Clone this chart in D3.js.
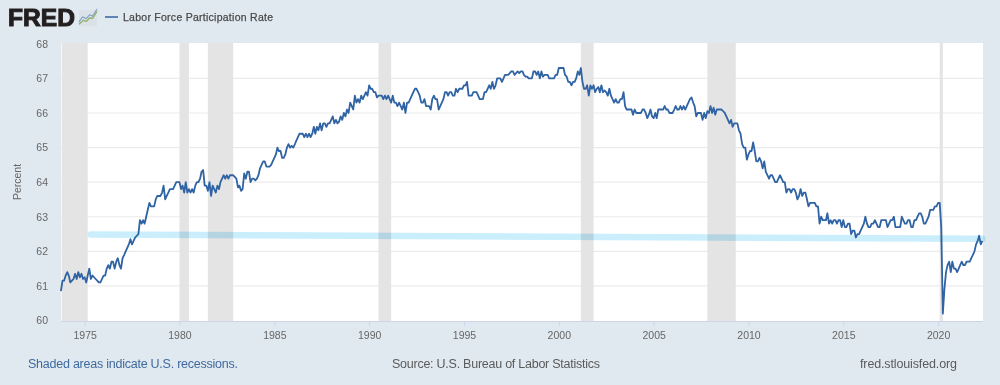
<!DOCTYPE html>
<html><head><meta charset="utf-8">
<script src="https://cdn.jsdelivr.net/npm/d3@7"></script>
<style>html,body{margin:0;padding:0;background:#e1e9f0}svg{display:block}text{font-family:"Liberation Sans",Arial,sans-serif}</style>
</head><body><svg id="c" width="1000" height="385"></svg>
<script>
const startDate = [1973, 9];
const seriesName = "Labor Force Participation Rate";
const yTicks = [60,61,62,63,64,65,66,67,68];
const xTicks = [1975,1980,1985,1990,1995,2000,2005,2010,2015,2020];
const recessions = [["1973-10","1975-03"],["1980-01","1980-07"],["1981-07","1982-11"],["1990-07","1991-03"],["2001-03","2001-11"],["2007-11","2009-05"],["2020-02","2020-04"]];
const highlight = [["1975-05",62.49],["2022-05",62.36]];
const values = [
60.85,61.15,61.15,
61.3,61.4,61.3,61.1,61.15,61.2,61.35,61.2,61.4,61.25,61.35,61.2,
61.25,61.1,61.3,61.5,61.2,61.3,61.25,61.2,61.15,61.1,61.1,61.2,
61.3,61.3,61.5,61.6,61.5,61.7,61.7,61.5,61.7,61.8,61.6,61.5,
61.8,61.9,62.0,62.1,62.2,62.35,62.2,62.3,62.4,62.45,62.5,62.9,
62.8,62.9,62.8,63.0,63.2,63.4,63.3,63.3,63.3,63.5,63.6,63.6,
63.6,63.7,63.9,63.5,63.6,63.7,63.8,63.8,63.8,63.9,64.0,64.0,
64.0,63.8,63.9,63.7,64.0,63.7,63.8,63.7,63.8,63.7,63.9,64.0,
64.0,64.1,64.3,64.35,63.9,63.9,63.75,64.0,63.6,63.9,63.8,63.7,
63.9,63.8,64.0,64.1,64.2,64.1,64.2,64.1,64.2,64.2,64.2,64.15,
64.1,63.85,63.9,63.75,63.8,64.25,64.1,64.3,64.3,64.0,64.1,64.1,
64.05,64.1,64.2,64.4,64.5,64.6,64.6,64.45,64.45,64.45,64.5,64.6,
64.7,64.8,65.0,64.9,64.9,64.7,64.7,64.8,65.0,65.1,65.0,65.05,
65.0,65.1,65.2,65.3,65.4,65.4,65.4,65.3,65.4,65.3,65.4,65.3,
65.4,65.6,65.4,65.6,65.5,65.7,65.5,65.7,65.7,65.6,65.7,65.7,
65.8,65.9,65.7,65.8,65.7,65.75,65.9,65.8,66.0,65.9,66.1,66.0,
66.3,66.2,66.1,66.5,66.3,66.4,66.3,66.5,66.4,66.5,66.6,66.5,
66.8,66.7,66.7,66.6,66.6,66.45,66.5,66.5,66.5,66.4,66.5,66.4,
66.5,66.4,66.3,66.5,66.3,66.3,66.2,66.3,66.2,66.1,66.3,66.0,
66.3,66.3,66.4,66.5,66.6,66.7,66.7,66.6,66.5,66.3,66.3,66.4,
66.2,66.2,66.2,66.1,66.4,66.5,66.4,66.4,66.1,66.2,66.3,66.4,
66.6,66.6,66.5,66.6,66.6,66.5,66.5,66.7,66.6,66.7,66.7,66.7,
66.8,66.8,66.9,66.5,66.5,66.5,66.6,66.6,66.6,66.5,66.4,66.4,
66.4,66.6,66.6,66.7,66.8,66.7,66.9,66.7,66.8,67.0,67.0,67.0,
66.9,67.0,67.1,67.1,67.1,67.15,67.2,67.2,67.1,67.15,67.2,67.15,
67.2,67.2,67.1,67.05,67.05,67.0,67.0,67.0,67.2,67.2,67.1,67.2,
67.0,67.2,67.05,67.1,67.1,67.1,67.0,67.0,67.0,67.0,67.1,67.1,
67.3,67.3,67.3,67.3,67.1,67.05,66.9,66.9,66.8,66.9,66.9,67.0,
67.2,67.1,67.3,66.9,66.7,66.7,66.8,66.5,66.8,66.7,66.8,66.6,
66.7,66.75,66.6,66.8,66.6,66.65,66.6,66.5,66.7,66.5,66.4,66.3,
66.4,66.3,66.3,66.4,66.4,66.6,66.2,66.1,66.1,66.1,66.1,65.95,
66.1,66.0,66.0,66.0,66.0,66.1,66.1,66.0,65.85,65.95,66.1,65.9,
65.85,66.0,65.85,66.1,66.1,66.1,66.1,66.2,66.1,66.1,66.0,66.0,
66.0,66.1,66.2,66.1,66.1,66.2,66.1,66.2,66.1,66.2,66.3,66.4,
66.45,66.3,66.2,65.9,66.0,66.0,66.0,65.8,66.0,65.85,66.05,66.0,
66.2,66.0,66.15,65.95,66.1,66.1,66.1,66.1,66.05,66.0,65.9,65.8,
65.7,65.8,65.6,65.7,65.7,65.7,65.5,65.4,65.1,65.0,65.0,64.65,
64.8,64.9,64.9,65.15,64.9,64.6,64.6,64.7,64.6,64.4,64.6,64.3,
64.2,64.1,64.2,64.2,64.1,64.0,64.0,64.1,64.2,64.1,64.0,64.0,
63.7,63.8,63.8,63.7,63.8,63.8,63.7,63.5,63.6,63.8,63.6,63.7,
63.7,63.5,63.3,63.4,63.4,63.4,63.4,63.3,63.3,62.8,63.0,62.9,
62.9,62.9,63.1,62.8,62.9,62.8,62.9,62.9,62.8,62.9,62.9,62.7,
62.9,62.7,62.7,62.8,62.8,62.5,62.6,62.6,62.4,62.5,62.5,62.6,
62.7,62.8,63.0,62.8,62.7,62.7,62.8,62.8,62.9,62.8,62.7,62.7,
62.9,62.9,62.9,62.9,62.7,62.8,62.9,62.9,63.0,62.7,62.7,62.7,
62.7,63.0,62.9,62.8,62.8,62.9,62.9,62.7,62.7,62.9,62.9,63.0,
63.1,63.1,63.0,62.8,62.8,62.9,63.0,63.2,63.2,63.2,63.3,63.3,
63.4,63.4,62.7,60.2,60.9,61.4,61.6,61.7,61.4,61.7,61.5,61.5,
61.4,61.5,61.6,61.7,61.6,61.6,61.7,61.7,61.7,61.8,61.9,62.0,
62.2,62.3,62.45,62.2,62.3
];
const monthDate = s => { const [y,m] = s.split("-").map(Number); return new Date(y,m-1,1); };
const W=1000,H=385,L=61,R=983,T=43,B=321;
const dates = values.map((_,i)=>new Date(startDate[0],startDate[1]+i,1));
const x = d3.scaleTime().domain([dates[0],dates[dates.length-1]]).range([60.9,982.3]);
const y = d3.scaleLinear().domain([60,68]).range([320.5,43.8]);
const svg = d3.select("#c");
svg.append("rect").attr("width",W).attr("height",H).attr("fill","#e1e9f0");
svg.append("rect").attr("x",L).attr("y",T).attr("width",R-L).attr("height",B-T).attr("fill","#fff");
// grid
svg.append("g").selectAll("line").data(yTicks.filter(d=>d>60&&d<68)).join("line")
 .attr("x1",L).attr("x2",R).attr("y1",d=>y(d)).attr("y2",d=>y(d)).attr("stroke","#ebebeb").attr("stroke-width",1.2);
// recessions
svg.append("g").selectAll("rect").data(recessions).join("rect")
 .attr("x",d=>Math.max(L+0.7,x(monthDate(d[0])))).attr("width",d=>x(monthDate(d[1]))-Math.max(L+0.7,x(monthDate(d[0]))))
 .attr("y",T).attr("height",B-T).attr("fill","#e4e4e4");
// highlight stroke
svg.append("path").datum(highlight).attr("fill","none").attr("stroke","#cbeefc").attr("stroke-width",6.5).attr("stroke-linecap","round")
 .style("mix-blend-mode","multiply")
 .attr("d",d3.line().x(d=>x(monthDate(d[0]))).y(d=>y(d[1])));
// axes
const xAxis = d3.axisBottom(x).tickValues(xTicks.map(v=>new Date(v,0,1))).tickFormat(d3.timeFormat("%Y")).tickSize(5).tickPadding(6);
const gx = svg.append("g").attr("transform",`translate(0,${B})`).call(xAxis);
gx.select(".domain").attr("stroke","#ccd6eb").attr("d",`M${L},0.5H${R}`);
gx.selectAll("line").attr("stroke","#ccd6eb");
gx.selectAll("text").attr("fill","#666").style("font-size","10.5px");
const yAxis = d3.axisLeft(y).tickValues(yTicks).tickSize(0).tickPadding(0);
const gy = svg.append("g").attr("transform","translate(48,0)").call(yAxis);
gy.select(".domain").remove();
gy.selectAll("text").attr("fill","#666").style("font-size","10.5px");
// line
svg.append("path").datum(values).attr("fill","none").attr("stroke","#2f63a3").attr("stroke-width",1.8).attr("stroke-linejoin","round")
 .attr("d",d3.line().x((d,i)=>x(dates[i])).y(d=>y(d)));
// y title
svg.append("text").attr("transform","translate(21,182) rotate(-90)").attr("text-anchor","middle").attr("fill","#666").style("font-size","10.5px").text("Percent");
// logo
svg.append("text").attr("x",8).attr("y",26).attr("fill","#231f20").style("font-size","23.5px").style("font-weight","900").attr("stroke","#231f20").attr("stroke-width",1).attr("textLength",67).attr("lengthAdjust","spacingAndGlyphs").text("FRED");
const ix = d3.scaleLinear().domain([0,1]).range([79,97]);
const iy = d3.scaleLinear().domain([0,1]).range([25,9]);
svg.append("rect").attr("x",79).attr("y",10).attr("width",18).attr("height",16).attr("fill","#d5dde3").attr("opacity",0.6);
const logoGreen=[[0,0.05],[0.25,0.3],[0.4,0.22],[0.6,0.45],[0.75,0.4],[1,0.85]];
const logoBlue=[[0,0.2],[0.2,0.5],[0.4,0.4],[0.6,0.65],[0.75,0.55],[1,1]];
const il=d3.line().x(d=>ix(d[0])).y(d=>iy(d[1]));
svg.append("path").attr("d",il(logoGreen)).attr("fill","none").attr("stroke","#8fb069").attr("stroke-width",1.3);
svg.append("path").attr("d",il(logoBlue)).attr("fill","none").attr("stroke","#7f9fc4").attr("stroke-width",1.1);
// legend
svg.append("line").attr("x1",105).attr("x2",118).attr("y1",17).attr("y2",17).attr("stroke","#2f63a3").attr("stroke-width",1.5);
svg.append("text").attr("x",123).attr("y",20.5).attr("fill","#4a4a4a").attr("stroke","#4a4a4a").attr("stroke-width",0.25).style("font-size","10.5px").attr("textLength",150).text(seriesName);
// footer
const foot=(t,xp,c,w)=>svg.append("text").attr("x",xp).attr("y",368).attr("fill",c).style("font-size","12.5px").attr("textLength",w).text(t);
foot("Shaded areas indicate U.S. recessions.",28,"#3e6a9e",210);
foot("Source: U.S. Bureau of Labor Statistics",392,"#5a5a5a",208);
foot("fred.stlouisfed.org",860,"#5a5a5a",97);
</script></body></html>
